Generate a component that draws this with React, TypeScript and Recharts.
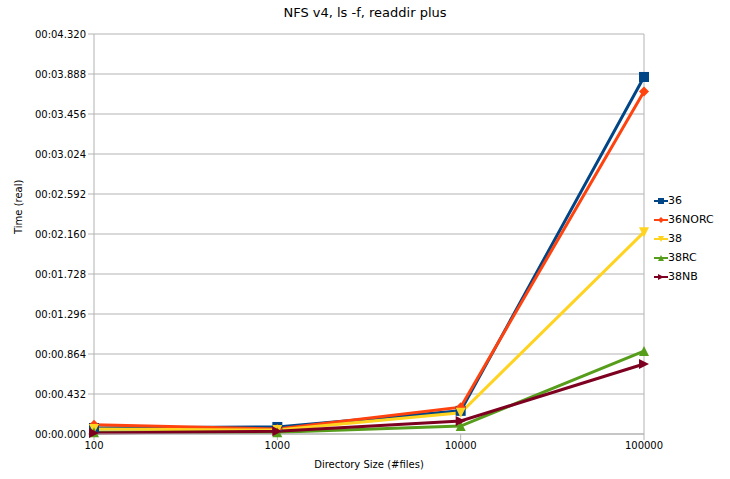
import React from "react";
import {
  LineChart,
  Line,
  XAxis,
  YAxis,
  CartesianGrid,
  ReferenceLine,
} from "recharts";

const sizes = [100, 1000, 10000, 100000];
const s36 = [0.065, 0.076, 0.25, 3.856];
const s36norc = [0.1, 0.054, 0.29, 3.7];
const s38 = [0.054, 0.043, 0.23, 2.18];
const s38rc = [0.02, 0.02, 0.086, 0.896];
const s38nb = [0.01, 0.03, 0.14, 0.756];
const yTicks = [0, 0.432, 0.864, 1.296, 1.728, 2.16, 2.592, 3.024, 3.456, 3.888, 4.32];

const series = [
  { key: "36", values: s36, color: "#004586", shape: "square" },
  { key: "36NORC", values: s36norc, color: "#ff420e", shape: "diamond" },
  { key: "38", values: s38, color: "#ffd320", shape: "down" },
  { key: "38RC", values: s38rc, color: "#579d1c", shape: "up" },
  { key: "38NB", values: s38nb, color: "#7e0021", shape: "right" },
];

const data = sizes.map((n, i) => {
  const row: Record<string, number> = { n };
  series.forEach((s) => (row[s.key] = s.values[i]));
  return row;
});

const FONT = "'DejaVu Sans', sans-serif";

function fmtTime(v: number) {
  const sec = Math.floor(v + 1e-9);
  const ms = Math.round((v - sec) * 1000);
  return `00:${String(sec).padStart(2, "0")}.${String(ms).padStart(3, "0")}`;
}

function Marker({ cx, cy, color, shape, r = 5 }: any) {
  if (cx == null || cy == null) return null;
  switch (shape) {
    case "square":
      return <rect x={cx - r} y={cy - r} width={2 * r} height={2 * r} fill={color} />;
    case "diamond":
      return (
        <polygon
          points={`${cx},${cy - r} ${cx + r},${cy} ${cx},${cy + r} ${cx - r},${cy}`}
          fill={color}
        />
      );
    case "down":
      return (
        <polygon
          points={`${cx - r},${cy - r} ${cx + r},${cy - r} ${cx},${cy + r}`}
          fill={color}
        />
      );
    case "up":
      return (
        <polygon
          points={`${cx - r},${cy + r} ${cx + r},${cy + r} ${cx},${cy - r}`}
          fill={color}
        />
      );
    default:
      return (
        <polygon
          points={`${cx - r},${cy - r} ${cx - r},${cy + r} ${cx + r},${cy}`}
          fill={color}
        />
      );
  }
}

function LegendBox() {
  return (
    <div style={{ fontFamily: FONT, fontSize: 11, color: "#000" }}>
      {series.map((s) => (
        <div key={s.key} style={{ display: "flex", alignItems: "center", height: 19 }}>
          <svg width={14} height={10}>
            <line x1={0} y1={5} x2={14} y2={5} stroke={s.color} strokeWidth={2} />
            <Marker cx={7} cy={5} color={s.color} shape={s.shape} r={3} />
          </svg>
          <span>{s.key}</span>
        </div>
      ))}
    </div>
  );
}

export default function App() {
  return (
    <div style={{ position: "absolute", left: 0, top: 0, width: 730, height: 479, background: "#fff" }}>
      <div
        style={{
          position: "absolute",
          top: 5,
          width: 730,
          textAlign: "center",
          fontFamily: FONT,
          fontSize: 13,
        }}
      >
        NFS v4, ls -f, readdir plus
      </div>
      <LineChart
        width={730}
        height={479}
        data={data}
        margin={{ top: 34, right: 86, bottom: 15, left: 0 }}
        style={{ fontFamily: FONT }}
      >
        <CartesianGrid vertical={false} stroke="#b3b3b3" />
        <XAxis
          dataKey="n"
          type="number"
          scale="log"
          domain={[100, 100000]}
          ticks={sizes}
          height={30}
          stroke="#b3b3b3"
          tickSize={6}
          tick={{ fill: "#000", fontSize: 10 }}
          label={{ value: "Directory Size (#files)", position: "insideBottom", offset: -4, fill: "#000", fontSize: 10 }}
        />
        <YAxis
          domain={[0, 4.32]}
          ticks={yTicks}
          width={94}
          stroke="#b3b3b3"
          tickSize={6}
          tickFormatter={fmtTime}
          tick={{ fill: "#000", fontSize: 10 }}
          label={{ value: "Time (real)", angle: -90, position: "insideLeft", offset: 18, fill: "#000", fontSize: 10 }}
          interval={0}
        />
        <ReferenceLine x={100000} stroke="#b3b3b3" />
        {series.map((s) => (
          <Line
            key={s.key}
            dataKey={s.key}
            stroke={s.color}
            strokeWidth={3}
            isAnimationActive={false}
            dot={(p: any) => <Marker key={`${s.key}-${p.index}`} cx={p.cx} cy={p.cy} color={s.color} shape={s.shape} />}
            activeDot={false}
          />
        ))}
      </LineChart>
      <div style={{ position: "absolute", left: 654, top: 191 }}>
        <LegendBox />
      </div>
    </div>
  );
}
